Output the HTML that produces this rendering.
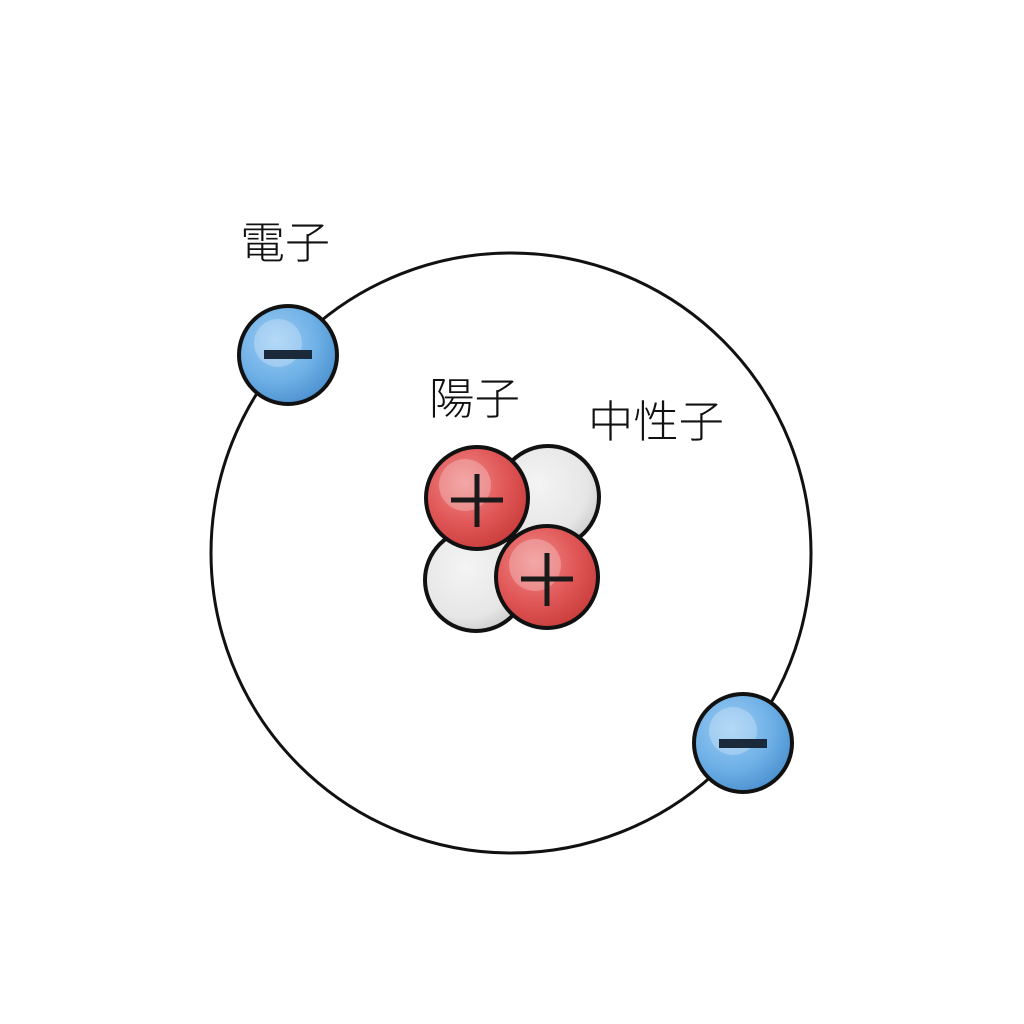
<!DOCTYPE html>
<html><head><meta charset="utf-8"><style>html,body{margin:0;padding:0;background:#fff}svg{display:block}</style></head>
<body>
<svg width="1024" height="1024" viewBox="0 0 1024 1024" xmlns="http://www.w3.org/2000/svg">
<defs>
<radialGradient id="b" cx="0.38" cy="0.35" r="0.7">
<stop offset="0" stop-color="#9cccf4"/><stop offset="0.6" stop-color="#6eb0e6"/><stop offset="1" stop-color="#4a90cf"/></radialGradient>
<radialGradient id="r" cx="0.38" cy="0.35" r="0.7">
<stop offset="0" stop-color="#f08a8a"/><stop offset="0.6" stop-color="#e05555"/><stop offset="1" stop-color="#c83c3c"/></radialGradient>
<radialGradient id="g" cx="0.4" cy="0.38" r="0.7">
<stop offset="0" stop-color="#f4f4f4"/><stop offset="0.7" stop-color="#e6e6e6"/><stop offset="1" stop-color="#c8c8c8"/></radialGradient>
</defs>
<rect width="1024" height="1024" fill="#fff"/>
<circle cx="511" cy="553" r="300" fill="none" stroke="#111" stroke-width="3"/>
<g stroke="#111" stroke-width="4">
<circle cx="548" cy="497" r="51" fill="url(#g)"/>
<circle cx="476" cy="580" r="51" fill="url(#g)"/>
<circle cx="477" cy="498" r="51" fill="url(#r)"/>
<circle cx="547" cy="577" r="51" fill="url(#r)"/>
<circle cx="288" cy="355" r="49" fill="url(#b)"/>
<circle cx="743" cy="743" r="49" fill="url(#b)"/>
</g>
<g fill="#fff" opacity="0.25"><circle cx="465" cy="485" r="26"/><circle cx="535" cy="565" r="26"/><circle cx="278" cy="343" r="24"/><circle cx="733" cy="731" r="24"/></g>
<g stroke="#1a1a1a" stroke-width="5">
<line x1="451" y1="500" x2="503" y2="500"/><line x1="477" y1="474" x2="477" y2="527"/>
<line x1="521" y1="579" x2="573" y2="579"/><line x1="547" y1="553" x2="547" y2="606"/>
</g>
<rect x="264" y="350" width="48" height="9" fill="#1a2a3a"/>
<rect x="719" y="739" width="48" height="9" fill="#1a2a3a"/>
<g font-family="'Noto Sans CJK JP','Noto Sans CJK SC',sans-serif" font-size="44" fill="#111" font-weight="300">
<text x="240" y="258" textLength="90" lengthAdjust="spacingAndGlyphs">電子</text>
<text x="429" y="414" textLength="91" lengthAdjust="spacingAndGlyphs">陽子</text>
<text x="588" y="437" textLength="136" lengthAdjust="spacingAndGlyphs">中性子</text>
</g>
</svg>
</body></html>
